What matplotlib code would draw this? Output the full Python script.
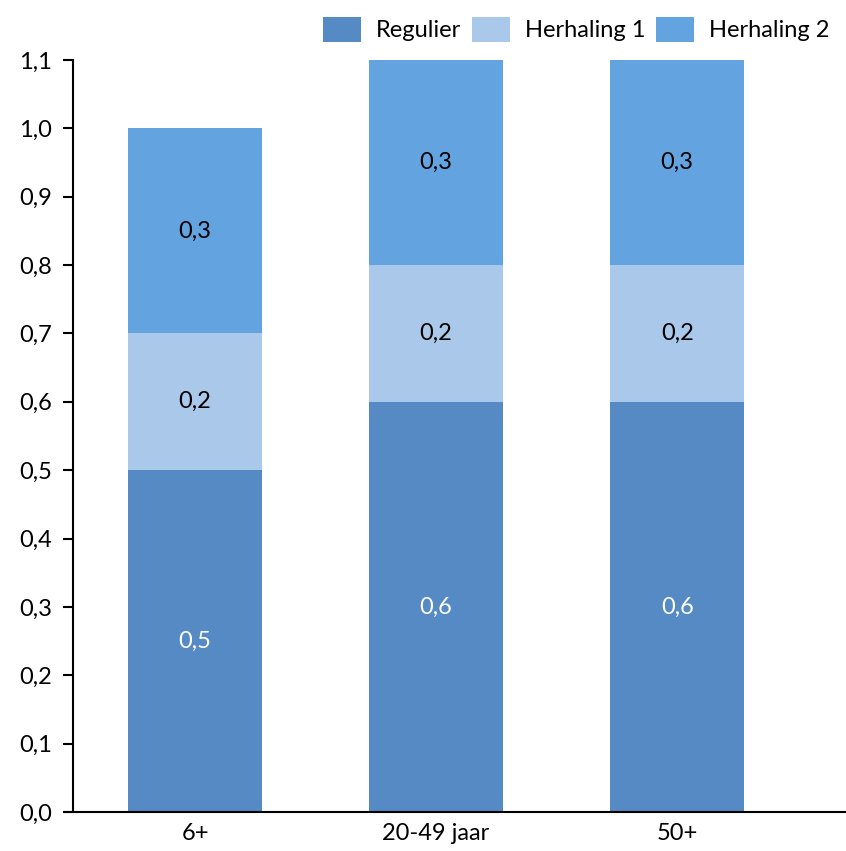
import matplotlib.pyplot as plt
import numpy as np

categories = ['6+', '20-49 jaar', '50+']
regulier = [0.5, 0.6, 0.6]
herhaling1 = [0.2, 0.2, 0.2]
herhaling2 = [0.3, 0.3, 0.3]
yticks = [0.0, 0.1, 0.2, 0.3, 0.4, 0.5, 0.6, 0.7, 0.8, 0.9, 1.0, 1.1]

plt.rcParams['font.family'] = ['Lato', 'DejaVu Sans']
plt.rcParams['font.size'] = 17

fig = plt.figure(figsize=(8.46, 8.51), dpi=100)
ax = fig.add_axes([0.0863, 0.0458, 1 - 0.0863, 0.9295 - 0.0458])

x = np.arange(len(categories))
width = 0.556
c1, c2, c3 = '#558ac5', '#a9c8ea', '#62a3e0'
b1 = ax.bar(x, regulier, width, color=c1, label='Regulier')
b2 = ax.bar(x, herhaling1, width, bottom=regulier, color=c2, label='Herhaling 1')
bot2 = [a + b for a, b in zip(regulier, herhaling1)]
b3 = ax.bar(x, herhaling2, width, bottom=bot2, color=c3, label='Herhaling 2')

def fmt(v):
    return ('%.1f' % v).replace('.', ',')

for bars, vals, col in [(b1, regulier, 'white'), (b2, herhaling1, 'black'), (b3, herhaling2, 'black')]:
    for r, v in zip(bars, vals):
        ax.text(r.get_x() + r.get_width() / 2, r.get_y() + r.get_height() / 2, fmt(v),
                ha='center', va='center', color=col, fontsize=17)

ax.set_ylim(0, 1.1)
ax.set_xlim(-0.506, 2.70)
ax.set_yticks(yticks)
ax.set_yticklabels([fmt(v) for v in yticks])
ax.set_xticks(x)
ax.set_xticklabels(categories)
ax.tick_params(axis='x', length=0, pad=8)
ax.tick_params(axis='y', length=7, width=1.5, direction='out', pad=8)
for s in ['top', 'right']:
    ax.spines[s].set_visible(False)
ax.spines['left'].set_linewidth(1.5)
ax.spines['bottom'].set_linewidth(1.5)
ax.spines['bottom'].set_bounds(-0.54, 2.70)
ax.spines['bottom'].set_clip_on(False)

fig.legend(handles=[b1, b2, b3], loc='upper right', bbox_to_anchor=(1.0, 1.0), ncol=3,
           frameon=False, handlelength=1.6, handleheight=1.27, handletextpad=0.65,
           columnspacing=0.45, borderaxespad=0.3, fontsize=17)

plt.savefig('out.png', dpi=100)
